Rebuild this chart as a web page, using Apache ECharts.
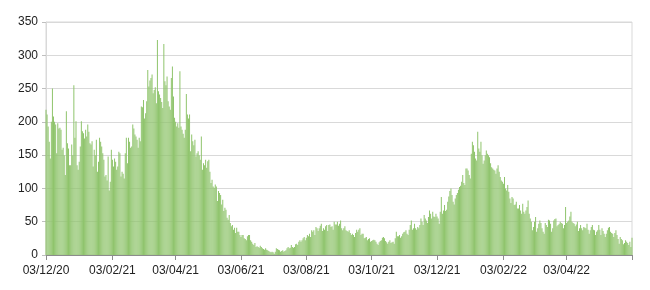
<!DOCTYPE html>
<html><head><meta charset="utf-8">
<script src="https://cdn.jsdelivr.net/npm/echarts@6/dist/echarts.min.js"></script>
<style>html,body{margin:0;padding:0;background:#fff}#c{width:650px;height:290px}</style>
</head><body><div id="c"></div>
<script>
// Daily values, 3 Dec 2020 .. 3 Jun 2022
const dec20 = [218,211,193,170,145,200,250,208,200,196,153,198,190,191,188,158,161,150,120,216,168,160,135,135,166,150,255,176,201];
const jan21 = [135,128,140,163,201,186,183,175,188,178,196,185,168,166,171,133,158,150,173,125,140,176,170,163,153,143,118,120,112,148,97];
const feb21 = [110,158,143,133,145,140,128,133,155,153,118,125,122,115,153,176,138,176,170,161,163,196,190,181,178,173,161,176];
const mar21 = [171,223,222,233,205,213,231,278,253,262,266,271,243,248,252,228,323,246,241,236,230,221,317,261,255,268,231,223,218,266,283];
const apr21 = [238,206,200,193,198,191,276,193,188,182,176,188,242,211,205,211,156,181,171,165,173,148,153,156,150,143,178,128,138,135];
const may21 = [143,131,141,143,125,108,113,103,101,106,103,81,96,93,90,76,83,66,71,68,56,53,60,48,43,45,38,41,33,41,35];
const jun21 = [35,30,27,30,30,25,24,22,28,30,30,22,20,17,15,18,12,13,12,11,14,12,10,9,8,10,8,7,6,5];
const jul21 = [4,5,4,2,5,10,9,8,7,5,6,7,5,6,7,10,12,10,11,15,12,11,12,16,17,15,20,22,20,22,25];
const aug21 = [27,22,26,30,28,32,27,37,35,37,30,42,40,36,40,44,47,36,40,38,43,45,36,45,46,42,43,38,50,46,46];
const sep21 = [50,44,47,52,40,37,40,43,37,36,35,37,33,30,32,30,27,33,38,35,38,40,30,32,32,25,26,27,22,24];
const oct21 = [25,20,21,22,23,22,20,17,15,19,21,22,26,27,25,21,19,17,20,22,18,19,20,17,25,35,28,28,30,26,28];
const nov21 = [32,34,35,37,32,30,38,45,52,38,40,47,40,38,42,40,45,55,50,45,60,55,52,48,57,67,62,55,65,58];
const dec21 = [57,62,58,55,47,65,87,62,67,75,66,68,80,88,96,100,90,80,76,85,90,93,98,102,104,110,120,108,105,130,130];
const jan22 = [127,120,115,152,170,165,155,145,142,185,160,155,170,150,137,142,150,157,152,150,147,138,132,130,128,127,122,130,135,125,117];
const feb22 = [112,110,107,117,100,97,105,95,85,78,87,85,75,76,80,70,70,75,67,62,77,65,62,67,72,82,62,55];
const mar22 = [50,37,42,50,57,35,40,47,52,48,40,35,32,48,45,42,53,52,47,35,40,52,54,55,43,45,47,50,48,47,40];
const apr22 = [45,72,48,50,52,58,65,50,48,47,43,46,50,36,40,45,40,37,42,41,40,47,38,32,37,42,45,38,37,30];
const may22 = [35,37,45,38,30,40,36,32,27,32,37,41,42,35,33,32,27,33,37,30,24,17,27,24,22,16,18,22,20,18,15];
const jun22 = [20,12,26];

const labelMonths = ['12','02','04','06','08','10'];
const labelDay = '03';

const values = [].concat(dec20,jan21,feb21,mar21,apr21,may21,jun21,jul21,aug21,sep21,oct21,nov21,dec21,jan22,feb22,mar22,apr22,may22,jun22);
function pad(n){return (n<10?'0':'')+n;}
const categories = [];
for (let i=0;i<values.length;i++){
  const d = new Date(2020, 11, 3+i);
  categories.push(pad(d.getDate())+'/'+pad(d.getMonth()+1)+'/'+String(d.getFullYear()).slice(2));
}
const lastIdx = values.length-1;
function isTickDay(idx, val){
  const p = String(val).split('/');
  return p[0]===labelDay && labelMonths.indexOf(p[1])>=0;
}
function isLabelDay(idx, val){
  return idx!==lastIdx && isTickDay(idx, val);
}

const chart = echarts.init(document.getElementById('c'), null, {renderer:'canvas'});
chart.setOption({
  animation:false,
  grid:{left:46,right:18,top:22,bottom:35,show:true,borderColor:'#d9d9d9',borderWidth:1,backgroundColor:'transparent'},
  xAxis:{
    type:'category', data:categories, boundaryGap:false,
    axisLine:{show:true,lineStyle:{color:'#8c8c8c',width:1}},
    axisTick:{show:true,interval:isTickDay,length:5,lineStyle:{color:'#8c8c8c'}},
    axisLabel:{interval:isLabelDay,color:'#222',fontSize:12,fontFamily:'Liberation Sans',margin:10},
    splitLine:{show:false}
  },
  yAxis:{
    type:'value', min:0, max:350, interval:50,
    axisLine:{show:true,lineStyle:{color:'#d9d9d9'}},
    axisTick:{show:true,length:4,lineStyle:{color:'#bfbfbf'}},
    axisLabel:{color:'#222',fontSize:12,fontFamily:'Liberation Sans',margin:8},
    splitLine:{show:true,lineStyle:{color:'#d9d9d9',width:1}}
  },
  series:[{
    type:'bar', data:values, large:false,
    barCategoryGap:'10%',
    itemStyle:{color:'#8fc46c'}
  }]
});
</script>
</body></html>
